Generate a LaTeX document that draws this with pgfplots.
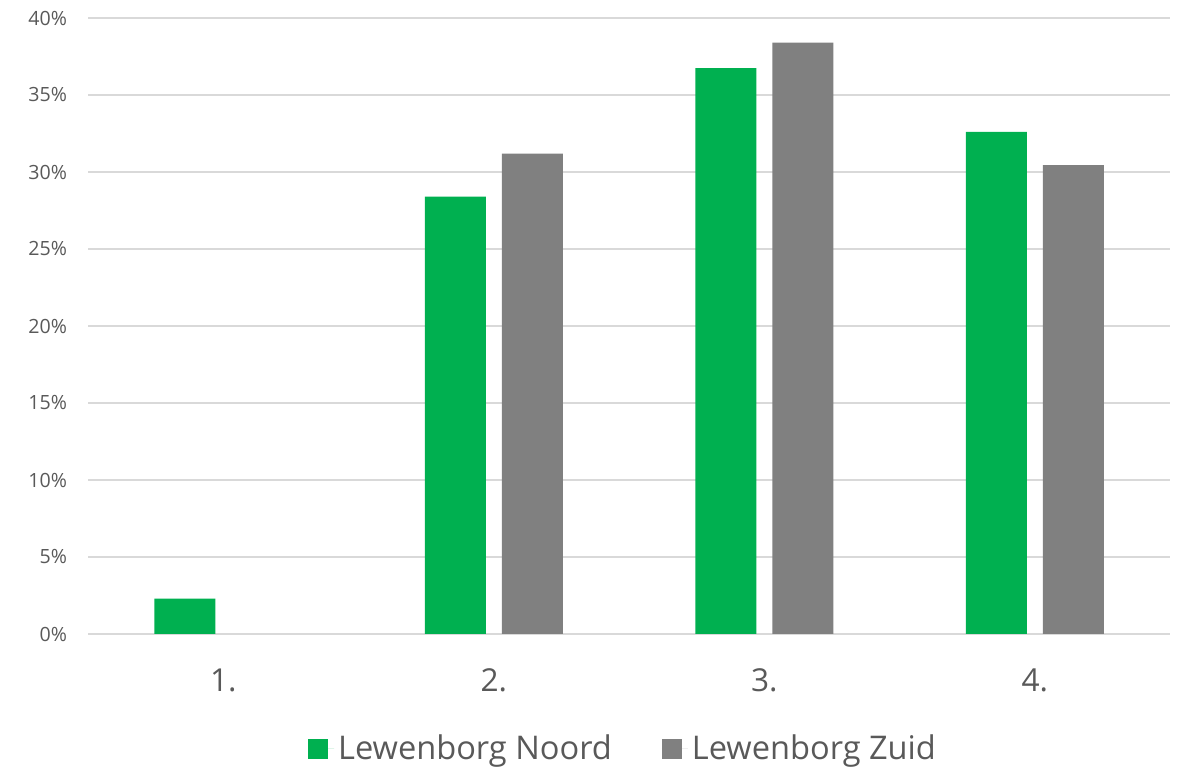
\documentclass[border=0pt]{standalone}
\usepackage{pgfplots}
\pgfplotsset{compat=1.18}
\usepackage{fontspec}
\setmainfont{Open Sans}
\definecolor{noord}{HTML}{00B050}
\definecolor{zuid}{HTML}{808080}
\definecolor{gridc}{HTML}{D9D9D9}
\definecolor{txt}{HTML}{595959}
\begin{document}
\begin{tikzpicture}
\useasboundingbox (0,0) rectangle (589.5pt,385pt);
\begin{axis}[
  at={(44pt,68pt)}, anchor=south west,
  scale only axis, width=541pt, height=308pt,
  ybar=8pt, bar width=30.5pt,
  xmin=0.5, xmax=4.5, ymin=0, ymax=40,
  xtick={1,2,3,4}, xticklabels={1.,2.,3.,4.},
  ytick={0,5,...,40},
  yticklabel={\pgfmathprintnumber{\tick}\%},
  /pgf/number format/assume math mode=true,
  axis line style={draw=none},
  major tick length=0pt,
  ymajorgrids, grid style={gridc, line width=1pt},
  axis x line*=bottom, 
  x axis line style={draw=gridc, line width=1pt},
  yticklabel style={font=\fontsize{9.8}{11}\selectfont, text=txt, xshift=-7pt},
  xticklabel style={font=\fontsize{15.8}{18}\selectfont, text=txt, yshift=-14pt},
  legend columns=2,
  legend style={draw=none, fill=none,
    font=\fontsize{16.3}{19}\selectfont, text=txt,
    /tikz/every even column/.append style={column sep=23pt}},
  legend image code/.code={\fill[#1] (0pt,-5pt) rectangle (10pt,5pt); \path (0pt,0pt) -- (13pt,0pt);},
  every axis legend/.append style={at={(268pt,-57.5pt)}, anchor=center},
]
\addplot[fill=noord, draw=none] coordinates {(1,2.3) (2,28.4) (3,36.75) (4,32.6)};
\addplot[fill=zuid, draw=none] coordinates {(2,31.2) (3,38.4) (4,30.45)};
\legend{Lewenborg Noord, Lewenborg Zuid}
\end{axis}
\end{tikzpicture}
\end{document}
